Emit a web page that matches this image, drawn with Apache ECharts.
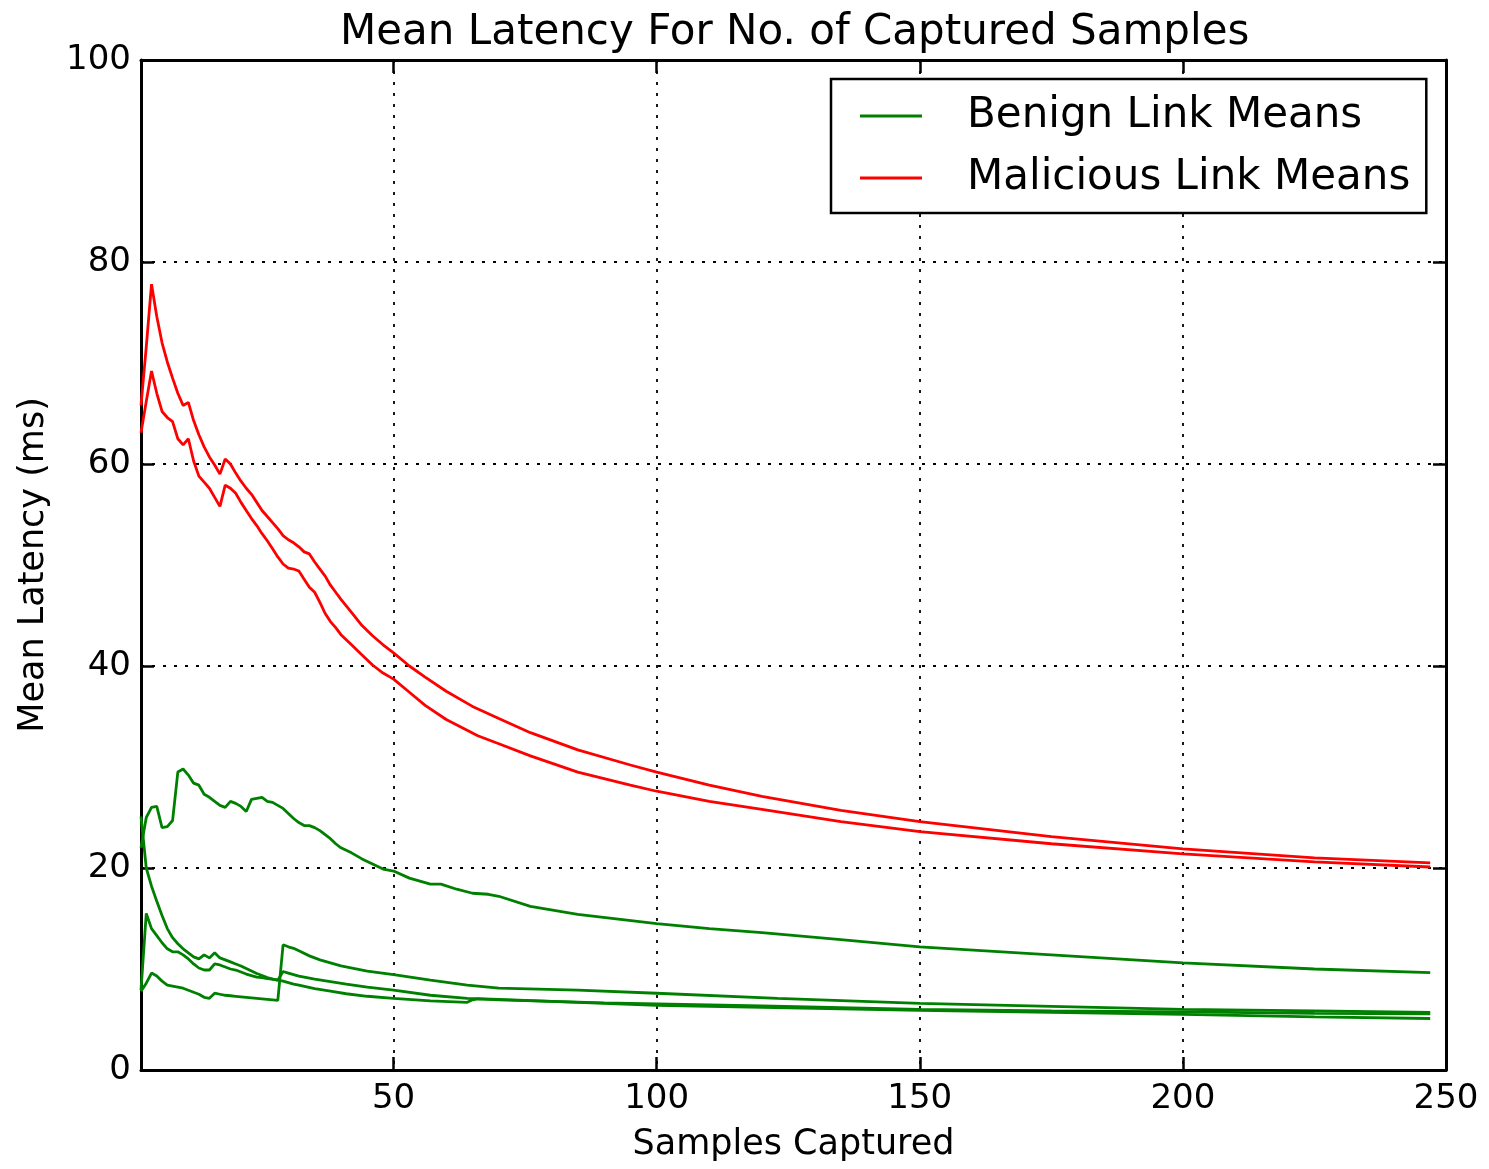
<!DOCTYPE html>
<html>
<head>
<meta charset="utf-8">
<script src="https://cdn.jsdelivr.net/npm/echarts@6/dist/echarts.min.js"></script>
<style>
  html, body { margin: 0; padding: 0; background: #fff; }
  #main { width: 1489px; height: 1169px; }
</style>
</head>
<body>
<div id="main"></div>
<script>
  // running means, [samples, ms]
  var maliciousA = [[2,65.8],[3,71.6],[4,77.8],[5,74.6],[6,72.0],[7,70.1],[8,68.5],[9,67.0],[10,65.8],[11,66.1],[12,64.3],[13,62.9],[14,61.7],[15,60.7],[16,59.9],[17,59.0],[18,60.5],[19,60.0],[20,59.1],[21,58.3],[22,57.6],[23,57.0],[24,56.2],[25,55.4],[26,54.8],[27,54.2],[28,53.6],[29,52.9],[30,52.5],[31,52.2],[32,51.8],[33,51.3],[34,51.1],[35,50.3],[36,49.6],[37,48.9],[38,48.0],[39,47.3],[40,46.6],[42,45.3],[44,44.0],[46,43.0],[48,42.1],[50,41.3],[53,40.0],[56,38.9],[60,37.5],[65,36.0],[70,34.8],[76,33.4],[85,31.7],[95,30.2],[100,29.5],[110,28.2],[120,27.1],[135,25.7],[150,24.6],[175,23.1],[200,21.9],[225,21.0],[247,20.5]];
  var maliciousB = [[2,63.1],[3,66.2],[4,69.2],[5,67.0],[6,65.2],[7,64.6],[8,64.2],[9,62.5],[10,61.9],[11,62.5],[12,60.3],[13,58.8],[14,58.2],[15,57.6],[16,56.7],[17,55.8],[18,57.9],[19,57.6],[20,57.1],[21,56.2],[22,55.4],[23,54.6],[24,53.9],[25,53.1],[26,52.4],[27,51.6],[28,50.8],[29,50.1],[30,49.7],[31,49.6],[32,49.4],[33,48.6],[34,47.8],[35,47.3],[36,46.3],[37,45.2],[38,44.4],[39,43.8],[40,43.1],[42,42.1],[44,41.1],[46,40.1],[48,39.3],[50,38.7],[53,37.4],[56,36.1],[60,34.7],[66,33.1],[70,32.3],[76,31.1],[85,29.5],[95,28.2],[100,27.6],[110,26.6],[120,25.8],[135,24.6],[150,23.6],[175,22.4],[200,21.4],[225,20.6],[247,20.1]];
  var benignA = [[2,22.0],[3,25.0],[4,26.0],[5,26.1],[6,24.0],[7,24.1],[8,24.7],[9,29.5],[10,29.8],[11,29.2],[12,28.4],[13,28.2],[14,27.3],[15,27.0],[16,26.6],[17,26.2],[18,26.0],[19,26.6],[20,26.4],[21,26.1],[22,25.6],[23,26.8],[24,26.9],[25,27.0],[26,26.6],[27,26.5],[28,26.2],[29,25.9],[30,25.4],[31,24.9],[32,24.5],[33,24.2],[34,24.2],[35,24.0],[36,23.7],[37,23.3],[38,22.9],[39,22.4],[40,22.0],[42,21.5],[44,20.9],[46,20.4],[48,19.9],[50,19.7],[53,19.0],[57,18.4],[59,18.4],[62,17.9],[65,17.5],[68,17.4],[70,17.2],[76,16.2],[85,15.4],[100,14.5],[110,14.0],[120,13.6],[135,12.9],[150,12.2],[175,11.4],[200,10.6],[225,10.0],[247,9.65]];
  var benignB = [[2,25.1],[3,20.0],[4,18.2],[5,16.7],[6,15.3],[7,14.0],[8,13.1],[9,12.5],[10,12.0],[11,11.6],[12,11.2],[13,11.0],[14,11.4],[15,11.1],[16,11.6],[17,11.1],[18,10.9],[19,10.7],[20,10.5],[21,10.3],[22,10.05],[23,9.8],[24,9.55],[25,9.35],[26,9.15],[27,9.0],[28,8.9],[29,8.8],[30,8.65],[31,8.5],[32,8.4],[35,8.05],[38,7.8],[41,7.55],[45,7.3],[50,7.1],[57,6.85],[64,6.7],[65,6.95],[66,7.05],[70,6.95],[80,6.8],[90,6.65],[100,6.55],[120,6.35],[150,6.0],[175,5.85],[200,5.75],[225,5.6],[247,5.55]];
  var benignC = [[2,7.9],[3,15.5],[4,14.0],[5,13.3],[6,12.6],[7,12.0],[8,11.7],[9,11.7],[10,11.4],[11,11.0],[12,10.5],[13,10.1],[14,9.9],[15,9.9],[16,10.5],[17,10.4],[18,10.2],[19,10.0],[20,9.9],[21,9.7],[22,9.5],[23,9.35],[24,9.2],[25,9.15],[26,9.05],[27,9.0],[28,8.9],[29,9.75],[30,9.6],[32,9.3],[35,9.0],[38,8.75],[41,8.5],[45,8.2],[50,7.9],[57,7.4],[64,7.1],[70,7.0],[80,6.8],[90,6.6],[100,6.4],[120,6.2],[150,5.9],[175,5.7],[200,5.5],[225,5.25],[247,5.1]];
  var benignD = [[2,7.8],[3,8.6],[4,9.6],[5,9.3],[6,8.8],[7,8.4],[8,8.3],[9,8.2],[10,8.1],[11,7.9],[12,7.7],[13,7.5],[14,7.2],[15,7.1],[16,7.6],[17,7.5],[18,7.4],[19,7.35],[20,7.3],[22,7.2],[24,7.1],[26,7.0],[28,6.9],[29,12.4],[30,12.2],[31,12.05],[32,11.8],[34,11.3],[36,10.9],[38,10.6],[40,10.3],[45,9.8],[50,9.45],[57,8.9],[64,8.4],[70,8.1],[85,7.9],[100,7.6],[123,7.1],[150,6.6],[175,6.3],[200,6.0],[225,5.85],[247,5.7]];

  var legendNames = ['Benign Link Means', 'Malicious Link Means'];
  var FONT = 'DejaVu Sans';

  function lineSeries(name, color, data) {
    return {
      name: name,
      type: 'line',
      data: data,
      showSymbol: false,
      symbol: 'none',
      color: color,
      lineStyle: { color: color, width: 2.8 },
      emphasis: { disabled: true },
      z: 3
    };
  }

  // x axis template (bottom + top copy for the inward ticks)
  function xAx(pos, main) {
    return {
      type: 'value', position: pos, min: 2, max: 250,
      axisLine: { show: true, onZero: false, lineStyle: { color: '#000', width: 3 } },
      axisTick: { show: true, inside: true, length: 13, lineStyle: { color: '#000', width: 2.5 } },
      axisLabel: { show: main, showMinLabel: false, margin: 12, fontFamily: FONT, fontSize: 34, color: '#000' },
      splitLine: { show: main, lineStyle: { color: '#000', width: 1.8, type: [3, 8] } },
      name: main ? 'Samples Captured' : '', nameLocation: 'middle', nameGap: 57,
      nameTextStyle: { fontFamily: FONT, fontSize: 35, color: '#000' }
    };
  }
  function yAx(pos, main) {
    return {
      type: 'value', position: pos, min: 0, max: 100, interval: 20,
      axisLine: { show: true, onZero: false, lineStyle: { color: '#000', width: 3 } },
      axisTick: { show: true, inside: true, length: 13, lineStyle: { color: '#000', width: 2.5 } },
      axisLabel: { show: main, margin: 10, fontFamily: FONT, fontSize: 34, color: '#000' },
      splitLine: { show: main, lineStyle: { color: '#000', width: 1.8, type: [3, 8] } },
      name: main ? 'Mean Latency (ms)' : '', nameLocation: 'middle', nameGap: 90,
      nameTextStyle: { fontFamily: FONT, fontSize: 35, color: '#000' }
    };
  }

  var chart = echarts.init(document.getElementById('main'));
  var option = {
    animation: false,
    backgroundColor: '#fff',
    title: {
      text: 'Mean Latency For No. of Captured Samples',
      left: 340, top: 12, padding: 0,
      textStyle: { fontFamily: FONT, fontSize: 42, fontWeight: 'normal', color: '#000', lineHeight: 42 }
    },
    grid: { left: 141, right: 43, top: 60, bottom: 99 },
    legend: {
      data: legendNames,
      orient: 'vertical',
      left: 831, top: 79,
      icon: 'rect', itemWidth: 62, itemHeight: 3, itemGap: 12,
      padding: [12, 16, 10, 29],
      backgroundColor: '#fff', borderColor: '#000', borderWidth: 2.5, borderRadius: 0,
      textStyle: { fontFamily: FONT, fontSize: 42, color: '#000', lineHeight: 50, padding: [0, 0, 0, 40] }
    },
    xAxis: [xAx('bottom', true), xAx('top', false)],
    yAxis: [yAx('left', true), yAx('right', false)],
    series: [
      lineSeries('Malicious Link Means', '#ff0000', maliciousA),
      lineSeries('Malicious Link Means', '#ff0000', maliciousB),
      lineSeries('Benign Link Means', '#008000', benignA),
      lineSeries('Benign Link Means', '#008000', benignB),
      lineSeries('Benign Link Means', '#008000', benignC),
      lineSeries('Benign Link Means', '#008000', benignD)
    ]
  };
  chart.setOption(option);
</script>
</body>
</html>
